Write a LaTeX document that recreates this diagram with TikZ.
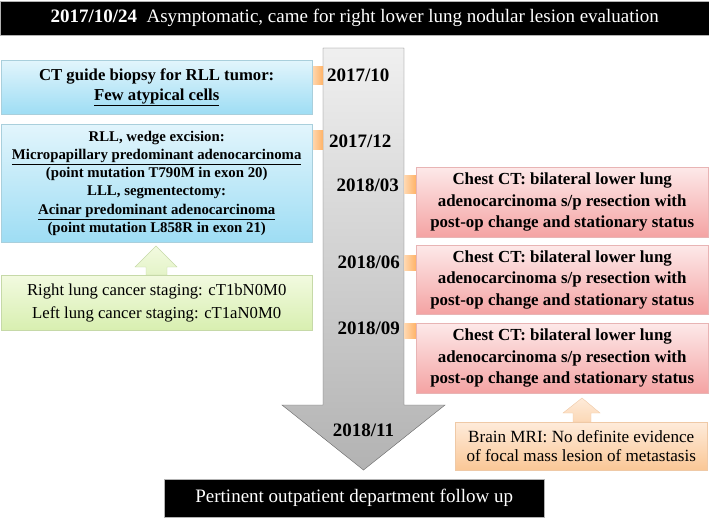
\documentclass[tikz,border=0pt]{standalone}
\usepackage{fontspec}
\setmainfont{Liberation Serif}
\definecolor{bluetop}{HTML}{E2F5FC}
\definecolor{bluebot}{HTML}{9EDDF4}
\definecolor{blueedge}{HTML}{A9CFDC}
\definecolor{redtop}{HTML}{FDE9E9}
\definecolor{redbot}{HTML}{F4A3A3}
\definecolor{rededge}{HTML}{E8B4B4}
\definecolor{greentop}{HTML}{F2FAE0}
\definecolor{greenbot}{HTML}{D8EFB0}
\definecolor{greenedge}{HTML}{C6D9A8}
\definecolor{orangetop}{HTML}{FEEBDA}
\definecolor{orangebot}{HTML}{FAC796}
\definecolor{orangeedge}{HTML}{EFC9A6}
\begin{document}
\begin{tikzpicture}[x=1pt,y=-1pt,
  bar/.style={draw=gray!60,fill=black,text=white,inner sep=0pt},
  bluebox/.style={draw=blueedge,top color=bluetop,bottom color=bluebot,inner sep=0pt,align=center},
  redbox/.style={draw=rededge,top color=redtop,bottom color=redbot,inner sep=0pt,align=center,font=\bfseries\fontsize{16.9}{21.7}\selectfont},
  greenbox/.style={draw=greenedge,top color=greentop,bottom color=greenbot,inner sep=0pt,align=center,font=\fontsize{16.7}{23}\selectfont},
  orangebox/.style={draw=orangeedge,top color=orangetop,bottom color=orangebot,inner sep=0pt,align=center,font=\fontsize{17.1}{19}\selectfont},
  tab/.style={left color=orange!30,right color=orange!60,draw=none},
  datelbl/.style={font=\bfseries\fontsize{19}{22}\selectfont,inner sep=0pt},
]
\useasboundingbox (0,0) rectangle (709,517);
% title bar
\node[bar,minimum width=709,minimum height=34,anchor=north west] (title) at (0,1)
  {\fontsize{19}{22}\selectfont\textbf{2017/10/24}\ \ Asymptomatic, came for right lower lung nodular lesion evaluation};
% big gray arrow
\path[draw=gray!80!black,top color=gray!12,bottom color=gray!60]
  (323,48) -- (404,48) -- (404,405) -- (445,405) -- (363.5,470) -- (282,405) -- (323,405) -- cycle;
% bottom bar
\node[bar,minimum width=380,minimum height=38,anchor=north west] (bottom) at (164,479)
  {\fontsize{19}{22}\selectfont Pertinent outpatient department follow up};
% tabs
\fill[tab] (312,66) rectangle (323,84);
\fill[tab] (312,130) rectangle (323,149);
\fill[tab] (404,175) rectangle (416,193);
\fill[tab] (404,255) rectangle (416,270);
\fill[tab] (404,323) rectangle (416,338);
% date labels
\node[datelbl,anchor=west] (d1) at (327,75) {2017/10};
\node[datelbl,anchor=west] (d2) at (329,141) {2017/12};
\node[datelbl,anchor=east] (d3) at (399,185) {2018/03};
\node[datelbl,anchor=east] (d4) at (400,262) {2018/06};
\node[datelbl,anchor=east] (d5) at (400,328) {2018/09};
\node[datelbl] (d6) at (363.5,430) {2018/11};
% blue boxes
\node[bluebox,minimum width=311,minimum height=54,anchor=north west,font=\bfseries\fontsize{16.7}{20}\selectfont] (b1) at (1,60)
  {CT guide biopsy for RLL tumor:\\\underline{Few atypical cells}};
\node[bluebox,minimum width=311,minimum height=118,anchor=north west,font=\bfseries\fontsize{14.8}{18.3}\selectfont] (b2) at (1,124)
  {RLL, wedge excision:\\\underline{Micropapillary predominant adenocarcinoma}\\(point mutation T790M in exon 20)\\LLL, segmentectomy:\\\underline{Acinar predominant adenocarcinoma}\\(point mutation L858R in exon 21)};
% green up arrow and box
\path[draw=greenedge,top color=greentop,bottom color=greenbot!70]
  (156,246) -- (177,267) -- (167,267) -- (167,275) -- (146,275) -- (146,267) -- (135,267) -- cycle;
\node[greenbox,minimum width=311,minimum height=55,anchor=north west] (g) at (1,275)
  {Right lung cancer staging: cT1bN0M0\\Left lung cancer staging: cT1aN0M0};
% red boxes
\node[redbox,minimum width=292,minimum height=70,anchor=north west] (r1) at (416,167)
  {Chest CT: bilateral lower lung\\adenocarcinoma s/p resection with\\post-op change and stationary status};
\node[redbox,minimum width=292,minimum height=69,anchor=north west] (r2) at (416,245)
  {Chest CT: bilateral lower lung\\adenocarcinoma s/p resection with\\post-op change and stationary status};
\node[redbox,minimum width=292,minimum height=70,anchor=north west] (r3) at (416,323)
  {Chest CT: bilateral lower lung\\adenocarcinoma s/p resection with\\post-op change and stationary status};
% orange up arrow and box
\path[draw=orangeedge,top color=orangetop,bottom color=orangebot!70]
  (582,398) -- (600,413) -- (591,413) -- (591,422) -- (573,422) -- (573,413) -- (563,413) -- cycle;
\node[orangebox,minimum width=252,minimum height=48,anchor=north west] (o) at (455,422)
  {Brain MRI: No definite evidence\\of focal mass lesion of metastasis};
\end{tikzpicture}
\end{document}
